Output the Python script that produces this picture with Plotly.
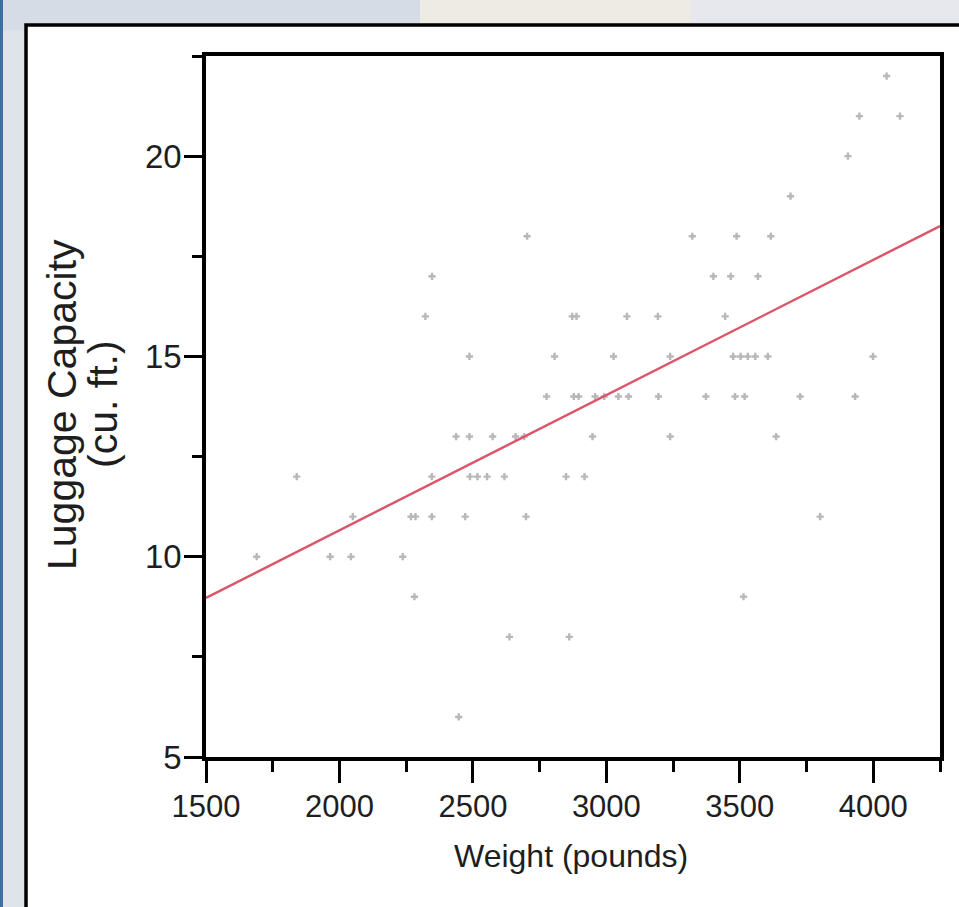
import plotly.graph_objects as go

# Car weight vs. luggage capacity
weight_lbs = [
    4050,
    3948, 4100,
    3905,
    3690,
    2703, 3322, 3488, 3616,
    2347, 3401, 3466, 3568,
    2322, 2872, 2888, 3077, 3193, 3445,
    2487, 2806, 3027, 3239, 3475, 3503, 3530, 3558, 3605, 3999,
    2776, 2878, 2896, 2958, 2992, 3045, 3083, 3195, 3373, 3482, 3518, 3726, 3932,
    2437, 2487, 2574, 2660, 2692, 2948, 3239, 3636,
    1840, 2346, 2489, 2517, 2553, 2618, 2849, 2918,
    2050, 2268, 2285, 2346, 2471, 2699, 3801,
    1690, 1965, 2043, 2237,
    2281, 3514,
    2637, 2861,
    2447,
]
luggage_cuft = [
    22,
    21, 21,
    20,
    19,
    18, 18, 18, 18,
    17, 17, 17, 17,
    16, 16, 16, 16, 16, 16,
    15, 15, 15, 15, 15, 15, 15, 15, 15, 15,
    14, 14, 14, 14, 14, 14, 14, 14, 14, 14, 14, 14, 14,
    13, 13, 13, 13, 13, 13, 13, 13,
    12, 12, 12, 12, 12, 12, 12, 12,
    11, 11, 11, 11, 11, 11, 11,
    10, 10, 10, 10,
    9, 9,
    8, 8,
    6,
]

# least-squares line: capacity = intercept + slope * weight
fit_intercept = 3.91
fit_slope = 0.003375

x_range = [1500, 4250]
y_range = [5, 22.5]
x_major = [1500, 2000, 2500, 3000, 3500, 4000]
x_minor = [1750, 2250, 2750, 3250, 3750, 4250]
y_major = [5, 10, 15, 20]
y_minor = [7.5, 12.5, 17.5, 22.5]

x_title = "Weight (pounds)"
y_title_lines = ["Luggage Capacity", "(cu. ft.)"]

FONT = "Liberation Sans, Arial, Helvetica, sans-serif"
TEXT = "#1e1e1e"

fig = go.Figure()

fig.add_trace(go.Scatter(
    x=weight_lbs, y=luggage_cuft, mode="markers",
    marker=dict(symbol="cross", size=6, color="#b8b8b8", line=dict(width=0)),
    showlegend=False, hoverinfo="x+y",
))

fit_x = list(x_range)
fit_y = [fit_intercept + fit_slope * v for v in fit_x]
fig.add_trace(go.Scatter(
    x=fit_x, y=fit_y, mode="lines",
    line=dict(color="#dc5468", width=2.4),
    showlegend=False, hoverinfo="skip",
))

axis_common = dict(
    showline=True, linecolor="black", linewidth=3.5, mirror=True,
    showgrid=False, zeroline=False,
    ticks="outside", tickcolor="black", tickwidth=3,
)

fig.update_xaxes(
    range=x_range, tickmode="array", tickvals=x_major,
    ticktext=[str(v) for v in x_major], ticklen=22,
    tickfont=dict(family=FONT, size=31, color=TEXT),
    minor=dict(ticks="outside", tickvals=x_minor, ticklen=11,
               tickwidth=3, tickcolor="black", showgrid=False),
    ticklabelstandoff=-3,
    **axis_common,
)
fig.update_yaxes(
    range=y_range, tickmode="array", tickvals=y_major,
    ticktext=[str(v) for v in y_major], ticklen=18,
    tickfont=dict(family=FONT, size=33, color=TEXT),
    minor=dict(ticks="outside", tickvals=y_minor, ticklen=10,
               tickwidth=3, tickcolor="black", showgrid=False),
    ticklabelstandoff=-4,
    **axis_common,
)

# plot area in pixels: left 206, right 940, top 56, bottom 757
L, R, T, B = 206, 940, 56, 757
W, H = R - L, B - T


def px(x):
    return (x - L) / W


def py(y):
    return (B - y) / H


shapes = [
    # slide backdrop strips
    dict(type="rect", xref="paper", yref="paper", x0=px(-10), x1=px(1000),
         y0=py(1000), y1=py(-10), fillcolor="#dfe4ea", line=dict(width=0), layer="below"),
    dict(type="rect", xref="paper", yref="paper", x0=px(-10), x1=px(420),
         y0=py(30), y1=py(-10), fillcolor="#d6dce6", line=dict(width=0), layer="below"),
    dict(type="rect", xref="paper", yref="paper", x0=px(420), x1=px(690),
         y0=py(30), y1=py(-10), fillcolor="#eeebe4", line=dict(width=0), layer="below"),
    dict(type="rect", xref="paper", yref="paper", x0=px(690), x1=px(1000),
         y0=py(30), y1=py(-10), fillcolor="#e6e8ed", line=dict(width=0), layer="below"),
    dict(type="rect", xref="paper", yref="paper", x0=px(-10), x1=px(3),
         y0=py(1000), y1=py(-10), fillcolor="#3f6da3", line=dict(width=0), layer="below"),
    # white chart panel
    dict(type="rect", xref="paper", yref="paper", x0=px(26), x1=px(990),
         y0=py(940), y1=py(25), fillcolor="white",
         line=dict(color="black", width=3.5), layer="below"),
]

annotations = [
    dict(text=x_title, xref="paper", yref="paper", x=px(571), y=py(856),
         xanchor="center", yanchor="middle", showarrow=False,
         font=dict(family=FONT, size=32, color=TEXT)),
    dict(text=y_title_lines[0], xref="paper", yref="paper", x=px(62), y=py(405),
         xanchor="center", yanchor="middle", textangle=-90, showarrow=False,
         font=dict(family=FONT, size=41, color=TEXT)),
    dict(text=y_title_lines[1], xref="paper", yref="paper", x=px(103), y=py(404),
         xanchor="center", yanchor="middle", textangle=-90, showarrow=False,
         font=dict(family=FONT, size=41, color=TEXT)),
]

fig.update_layout(
    width=959, height=907,
    margin=dict(l=L, r=959 - R, t=T, b=907 - B, pad=0, autoexpand=False),
    paper_bgcolor="#dfe4ea",
    plot_bgcolor="rgba(0,0,0,0)",
    shapes=shapes,
    annotations=annotations,
    showlegend=False,
)

fig.write_html("out.html")
